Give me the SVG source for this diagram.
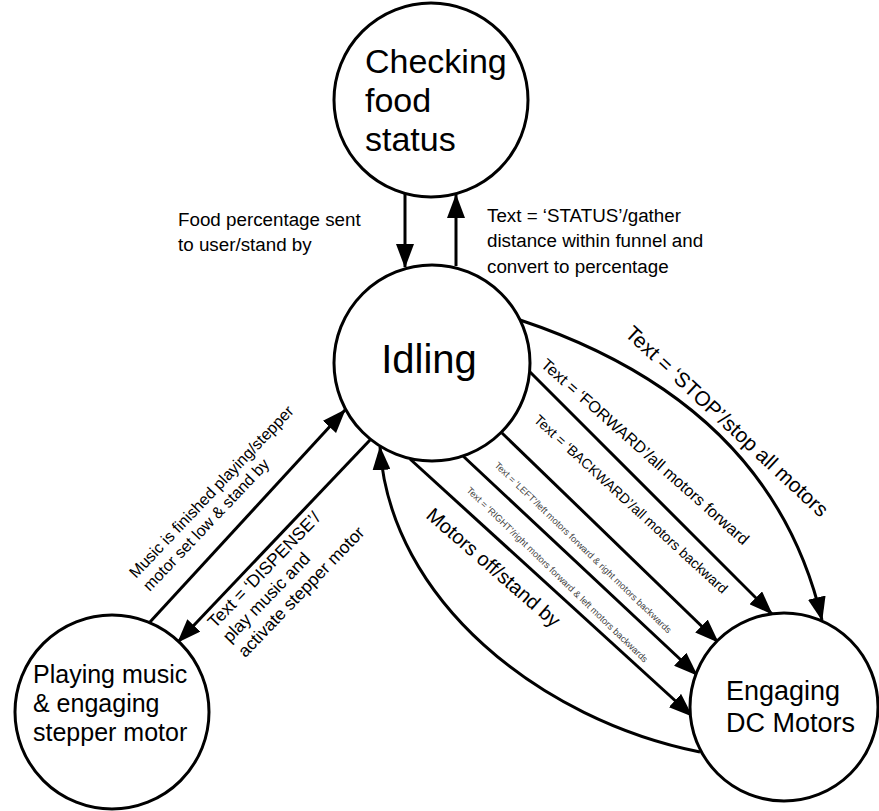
<svg xmlns="http://www.w3.org/2000/svg" width="879" height="811" viewBox="0 0 879 811">
<style>
.node{fill:#fff;stroke:#000;stroke-width:3}
.edge{fill:none;stroke:#000;stroke-width:3}
text{font-family:"Liberation Sans",Arial,sans-serif;fill:#000}
.nl{font-size:34px}
.lbl{font-size:18.8px}
.mid{font-size:16px}
.small{font-size:9.3px;fill:#444}
</style>
<defs>
<marker id="ah" viewBox="0 0 24 18" refX="23" refY="9" markerWidth="24" markerHeight="18" markerUnits="userSpaceOnUse" orient="auto">
<path d="M0,0 L24,9 L0,18 z" fill="#000"/>
</marker>
</defs>
<rect width="879" height="811" fill="#fff"/>
<g id="connectors">
<path class="edge" d="M405,193 L405,267" marker-end="url(#ah)"/>
<path class="edge" d="M456,266 L456,195" marker-end="url(#ah)"/>
<path class="edge" d="M150,622 L345,410" marker-end="url(#ah)"/>
<path class="edge" d="M370,440 L178,642" marker-end="url(#ah)"/>
<path class="edge" d="M700,752 C540,720 390,600 380,447" marker-end="url(#ah)"/>
<path class="edge" d="M520,320 C640,360 780,440 822,620" marker-end="url(#ah)"/>
<path class="edge" d="M530,372 L772,614" marker-end="url(#ah)"/>
<path class="edge" d="M502,433 L718,642" marker-end="url(#ah)"/>
<path class="edge" d="M463,456 L697,675" marker-end="url(#ah)"/>
<path class="edge" d="M410,459 L692,716" marker-end="url(#ah)"/>
<text class="lbl" x="178" y="226">Food percentage sent</text>
<text class="lbl" x="178" y="251">to user/stand by</text>
<text class="lbl" x="487" y="222">Text = ‘STATUS’/gather</text>
<text class="lbl" x="487" y="247">distance within funnel and</text>
<text class="lbl" x="487" y="273">convert to percentage</text>
<text style="font-size:20.8px" transform="translate(624,335) rotate(43)">Text = ‘STOP’/stop all motors</text>
<text style="font-size:16.2px" transform="translate(540,366) rotate(41.5)">Text = ‘FORWARD’/all motors forward</text>
<text style="font-size:14px" transform="translate(533,421) rotate(42.5)">Text = ‘BACKWARD’/all motors backward</text>
<text class="small" transform="translate(494,466) rotate(44)">Text = ‘LEFT’/left motors forward &amp; right motors backwards</text>
<text class="small" transform="translate(466,491) rotate(44)">Text = ‘RIGHT’/right motors forward &amp; left motors backwards</text>
<text style="font-size:20px" transform="translate(425,517) rotate(41)">Motors off/stand by</text>
<g transform="translate(136,579) rotate(-46.5)">
<text class="mid" x="0" y="0">Music is finished playing/stepper</text>
<text class="mid" x="0" y="19">motor set low &amp; stand by</text>
</g>
<g transform="translate(215,629) rotate(-46)" style="font-size:17.5px">
<text x="0" y="0">Text = ‘DISPENSE’/</text>
<text x="0" y="21">play music and</text>
<text x="0" y="42">activate stepper motor</text>
</g>
</g>
<g id="checking">
<circle class="node" cx="431" cy="100" r="97"/>
<text class="nl" x="365" y="73">Checking</text>
<text class="nl" x="365" y="112">food</text>
<text class="nl" x="365" y="151">status</text>
</g>
<g id="idling">
<circle class="node" cx="432" cy="363" r="98"/>
<text x="429" y="373" text-anchor="middle" style="font-size:40px">Idling</text>
</g>
<g id="playing">
<circle class="node" cx="112" cy="712" r="97"/>
<text style="font-size:25px" x="33" y="683">Playing music</text>
<text style="font-size:25px" x="33" y="712">&amp; engaging</text>
<text style="font-size:25px" x="33" y="741">stepper motor</text>
</g>
<g id="dcmotors">
<circle class="node" cx="784" cy="707" r="94"/>
<text style="font-size:27px" x="726" y="700">Engaging</text>
<text style="font-size:27px" x="726" y="732">DC Motors</text>
</g>
</svg>
